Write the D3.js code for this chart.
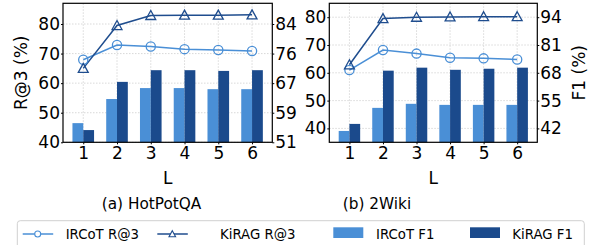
<!DOCTYPE html>
<html>
<head>
<meta charset="utf-8">
<script src="https://cdn.jsdelivr.net/npm/d3@7"></script>
<style>
  html, body { margin: 0; padding: 0; background: #fff; }
  svg { display: block; font-family: "DejaVu Sans", sans-serif; }
</style>
</head>
<body>
<svg id="chart" width="595" height="245"></svg>
<script>
// ---------------- DATA ----------------
const categories = [1, 2, 3, 4, 5, 6];

// HotPotQA (a)
const hotpotIrcotR3 = [67.9, 72.9, 72.4, 71.5, 71.2, 70.9];
const hotpotKiragR3 = [65.0, 79.5, 82.9, 83.0, 83.0, 83.1];
const hotpotIrcotF1 = [56.5, 63.1, 66.1, 66.1, 65.8, 65.8];
const hotpotKiragF1 = [54.6, 67.8, 71.0, 71.0, 70.8, 71.0];

// 2Wiki (b)
const wikiIrcotR3 = [61.0, 68.2, 66.9, 65.4, 65.2, 64.8];
const wikiKiragR3 = [62.9, 79.5, 80.0, 80.1, 80.2, 80.2];
const wikiIrcotF1 = [40.8, 51.6, 53.5, 53.0, 53.0, 53.0];
const wikiKiragF1 = [44.1, 69.0, 70.4, 69.4, 69.9, 70.4];

// tick values / labels
const leftTicks = [40, 50, 60, 70, 80];
const rightTicksA = [51.25, 59.35, 67.45, 75.55, 83.65];
const rightTickLabelsA = ["51", "59", "67", "76", "84"];
const rightTicksB = [42, 55, 68, 81, 94];
const rightTickLabelsB = ["42", "55", "68", "81", "94"];

const titles = ["(a) HotPotQA", "(b) 2Wiki"];
const legendLabels = ["IRCoT R@3", "KiRAG R@3", "IRCoT F1", "KiRAG F1"];

// ---------------- STYLE ----------------
const LIGHT = "#4a8fd6";
const DARK = "#1b4a8c";
const LINE_LIGHT = "#4a8fd6";
const LINE_DARK = "#1f4d8e";
const TICK_FS = 17;

const svg = d3.select("#chart");

const panels = [
  {
    x0: 63, x1: 272.3, yTop: 3.3, yBot: 142.3,
    leftDomain: [40, 87], rightDomain: [51.25, 89.32],
    rightTicks: rightTicksA, rightLabels: rightTickLabelsA,
    ircotR3: hotpotIrcotR3, kiragR3: hotpotKiragR3,
    ircotF1: hotpotIrcotF1, kiragF1: hotpotKiragF1,
    ylabel: "R@3 (%)", ylabelX: 21, y2label: null,
    title: titles[0], titleX: 151.5
  },
  {
    x0: 329.3, x1: 537.3, yTop: 3.3, yBot: 142.3,
    leftDomain: [35, 85], rightDomain: [35.5, 100.5],
    rightTicks: rightTicksB, rightLabels: rightTickLabelsB,
    ircotR3: wikiIrcotR3, kiragR3: wikiKiragR3,
    ircotF1: wikiIrcotF1, kiragF1: wikiKiragF1,
    ylabel: null, y2label: "F1 (%)", y2labelX: 579,
    title: titles[1], titleX: 377
  }
];

const barW = 0.32;

function trianglePath(size) {
  // upward triangle centered at 0,0
  const h = size;
  const w = size * 1.1;
  return `M0,${-h * 0.55}L${w / 2},${h * 0.45}L${-w / 2},${h * 0.45}Z`;
}

panels.forEach(p => {
  const x = d3.scaleLinear().domain([0.4, 6.6]).range([p.x0, p.x1]);
  const yL = d3.scaleLinear().domain(p.leftDomain).range([p.yBot, p.yTop]);
  const yR = d3.scaleLinear().domain(p.rightDomain).range([p.yBot, p.yTop]);

  const g = svg.append("g");

  // grid
  const grid = g.append("g").attr("stroke", "#cfcfcf").attr("stroke-width", 0.8)
    .attr("stroke-dasharray", "1.5,1.5");
  grid.selectAll("line.h").data(leftTicks).join("line")
    .attr("x1", p.x0).attr("x2", p.x1)
    .attr("y1", d => yL(d)).attr("y2", d => yL(d));
  grid.selectAll("line.v").data(categories).join("line")
    .attr("x1", d => x(d)).attr("x2", d => x(d))
    .attr("y1", p.yTop).attr("y2", p.yBot);

  // bars
  const y0 = yR(p.rightDomain[0]);
  g.append("g").selectAll("rect").data(categories).join("rect")
    .attr("x", (d) => x(d - barW))
    .attr("width", x(barW) - x(0))
    .attr("y", (d, i) => yR(p.ircotF1[i]))
    .attr("height", (d, i) => y0 - yR(p.ircotF1[i]))
    .attr("fill", LIGHT);
  g.append("g").selectAll("rect").data(categories).join("rect")
    .attr("x", (d) => x(d))
    .attr("width", x(barW) - x(0))
    .attr("y", (d, i) => yR(p.kiragF1[i]))
    .attr("height", (d, i) => y0 - yR(p.kiragF1[i]))
    .attr("fill", DARK);

  // lines
  const line = d3.line().x((d, i) => x(categories[i])).y(d => yL(d));
  g.append("path").datum(p.ircotR3).attr("d", line)
    .attr("fill", "none").attr("stroke", LINE_LIGHT).attr("stroke-width", 1.5);
  g.append("path").datum(p.kiragR3).attr("d", line)
    .attr("fill", "none").attr("stroke", LINE_DARK).attr("stroke-width", 1.5);

  g.append("g").selectAll("circle").data(p.ircotR3).join("circle")
    .attr("cx", (d, i) => x(categories[i])).attr("cy", d => yL(d))
    .attr("r", 4.6).attr("fill", "none")
    .attr("stroke", LINE_LIGHT).attr("stroke-width", 1.3);
  g.append("g").selectAll("path").data(p.kiragR3).join("path")
    .attr("transform", (d, i) => `translate(${x(categories[i])},${yL(d)})`)
    .attr("d", trianglePath(9)).attr("fill", "none")
    .attr("stroke", LINE_DARK).attr("stroke-width", 1.3);

  // frame
  g.append("rect").attr("x", p.x0).attr("y", p.yTop)
    .attr("width", p.x1 - p.x0).attr("height", p.yBot - p.yTop)
    .attr("fill", "none").attr("stroke", "#000").attr("stroke-width", 1.2);

  // axes
  const ax = g.append("g").attr("transform", `translate(0,${p.yBot})`)
    .call(d3.axisBottom(x).tickValues(categories).tickFormat(d3.format("d"))
      .tickSize(2).tickPadding(2.7));
  const al = g.append("g").attr("transform", `translate(${p.x0},0)`)
    .call(d3.axisLeft(yL).tickValues(leftTicks).tickSize(2).tickPadding(1));
  const ar = g.append("g").attr("transform", `translate(${p.x1},0)`)
    .call(d3.axisRight(yR).tickValues(p.rightTicks)
      .tickFormat((d, i) => p.rightLabels[i]).tickSize(2).tickPadding(1));
  [ax, al, ar].forEach(a => {
    a.select(".domain").remove();
    a.selectAll("text").attr("font-size", TICK_FS)
      .attr("font-family", "'DejaVu Sans', sans-serif").attr("fill", "#000");
    a.selectAll("line").attr("stroke", "#000").attr("stroke-width", 1);
  });

  // x label
  g.append("text").attr("x", (p.x0 + p.x1) / 2).attr("y", 184.3)
    .attr("text-anchor", "middle").attr("font-size", TICK_FS).text("L");

  // y labels
  const yMid = (p.yTop + p.yBot) / 2;
  if (p.ylabel) {
    g.append("text")
      .attr("transform", `translate(${p.ylabelX},${yMid}) rotate(-90)`)
      .attr("text-anchor", "middle").attr("dy", "0.35em")
      .attr("font-size", TICK_FS).text(p.ylabel);
  }
  if (p.y2label) {
    g.append("text")
      .attr("transform", `translate(${p.y2labelX},${yMid}) rotate(-90)`)
      .attr("text-anchor", "middle").attr("dy", "0.35em")
      .attr("font-size", TICK_FS).text(p.y2label);
  }

  // caption
  g.append("text").attr("x", p.titleX).attr("y", 208.5)
    .attr("text-anchor", "middle").attr("font-size", 15.3).text(p.title);
});

// ---------------- LEGEND ----------------
const leg = svg.append("g");
leg.append("rect").attr("x", 17.3).attr("y", 220.7)
  .attr("width", 584.3 - 17.3).attr("height", 40).attr("rx", 3)
  .attr("fill", "#fff").attr("stroke", "#d0d0d0").attr("stroke-width", 1);

const legY = 234;
const legendItems = [
  { type: "circle", color: LINE_LIGHT, hx: 22.7, tx: 65.7 },
  { type: "tri", color: LINE_DARK, hx: 157.3, tx: 220 },
  { type: "bar", color: LIGHT, hx: 333.3, tx: 376 },
  { type: "bar", color: DARK, hx: 470, tx: 512.3 }
];
legendItems.forEach((it, i) => {
  if (it.type === "bar") {
    leg.append("rect").attr("x", it.hx).attr("y", 227.3)
      .attr("width", 30).attr("height", 10.7).attr("fill", it.color);
  } else {
    leg.append("line").attr("x1", it.hx).attr("x2", it.hx + 30.5)
      .attr("y1", legY).attr("y2", legY)
      .attr("stroke", it.color).attr("stroke-width", 1.5);
    if (it.type === "circle") {
      leg.append("circle").attr("cx", it.hx + 15).attr("cy", legY).attr("r", 3)
        .attr("fill", "#fff").attr("stroke", it.color).attr("stroke-width", 1.1);
    } else {
      leg.append("path").attr("transform", `translate(${it.hx + 15},${legY})`)
        .attr("d", trianglePath(6)).attr("fill", "#fff")
        .attr("stroke", it.color).attr("stroke-width", 1.1);
    }
  }
  leg.append("text").attr("x", it.tx).attr("y", 239.3)
    .attr("font-size", 13.3).text(legendLabels[i]);
});
</script>
</body>
</html>
